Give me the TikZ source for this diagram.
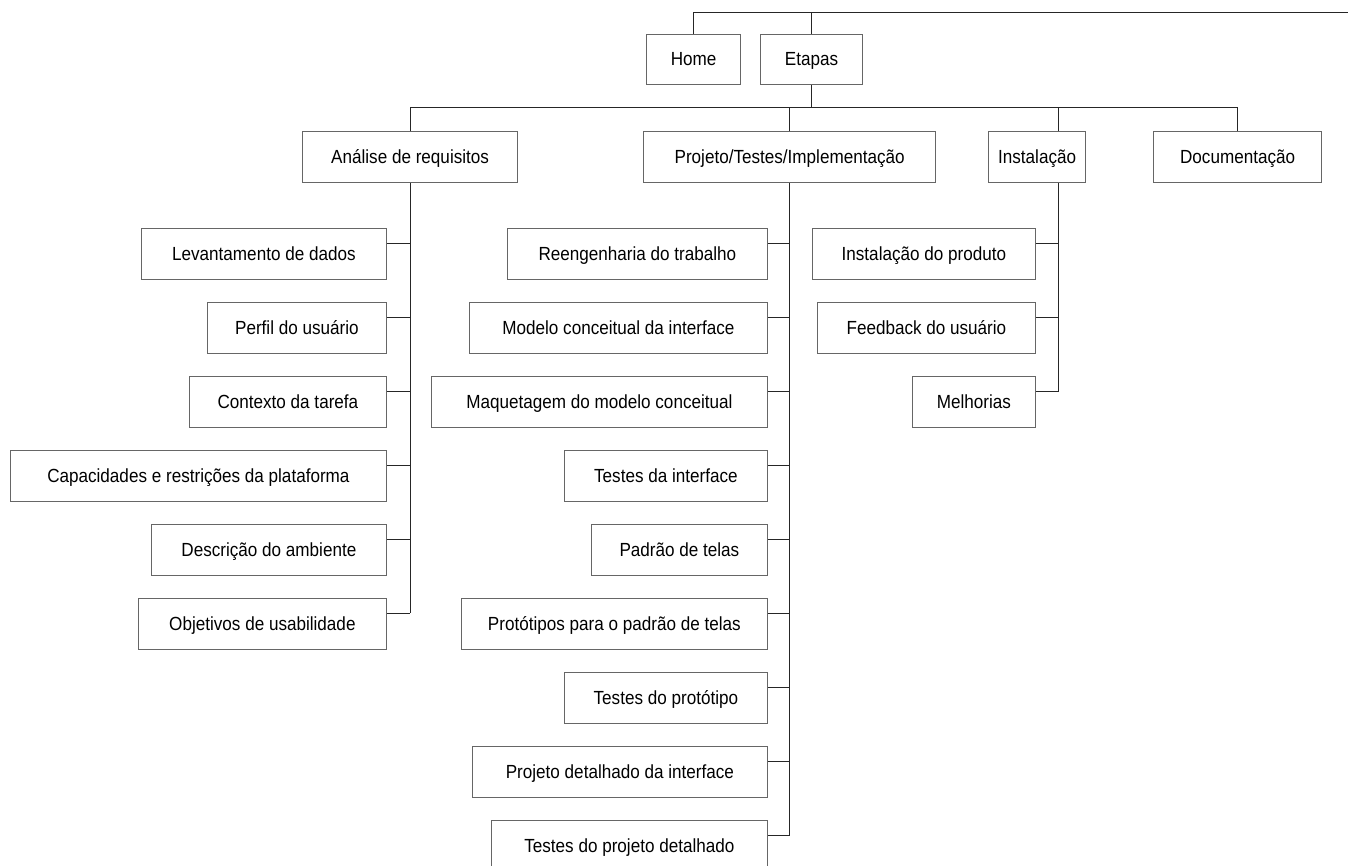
\documentclass[tikz,border=0pt]{standalone}
\usepackage{fontspec}
\setmainfont{Liberation Sans}[FakeStretch=0.9]
\usetikzlibrary{positioning}
\tikzset{
topbox/.style={draw=black!60, line width=1.2pt, minimum height=50pt, inner sep=0pt, text height=15pt, text depth=3pt, anchor=north west, font=\fontsize{19}{22}\selectfont},
subbox/.style={topbox, anchor=north east, minimum height=51pt},
link/.style={draw=black!85, line width=1pt}
}
\begin{document}
\begin{tikzpicture}[x=1pt, y=-1pt]
\useasboundingbox (0,0) rectangle (1348,865);
% first levels
\node[topbox, minimum width=94pt] (home) at (646,34) {Home};
\node[topbox, minimum width=102pt] (etapas) at (760,34) {Etapas};
\node[topbox, minimum width=215pt, minimum height=51pt] (ana) at (302,131) {Análise de requisitos};
\node[topbox, minimum width=292pt, minimum height=51pt] (proj) at (643,131) {Projeto/Testes/Implementação};
\node[topbox, minimum width=97pt, minimum height=51pt] (inst) at (988,131) {Instalação};
\node[topbox, minimum width=168pt, minimum height=51pt] (doc) at (1153,131) {Documentação};
\coordinate (topend) at (1348,12);
\coordinate (lvl) at (0,107);
\coordinate (instx) at ([xshift=21.5pt]inst.north);
\draw[link] (home.north) -- (home.north |- topend) -- (topend);
\draw[link] (etapas.north) -- (etapas.north |- topend);
\draw[link] (etapas.south) -- (etapas.south |- lvl);
\draw[link] (ana.north) -- (ana.north |- lvl) -- (doc.north |- lvl) -- (doc.north);
\draw[link] (proj.north) -- (proj.north |- lvl);
\draw[link] (instx) -- (instx |- lvl);
% Analise de requisitos
\foreach \nm/\lft/\row/\txt in {lev/142/0/Levantamento de dados, per/208/1/Perfil do usuário, ctx/190/2/Contexto da tarefa, cap/11/3/Capacidades e restrições da plataforma, amb/152/4/Descrição do ambiente, obj/139/5/Objetivos de usabilidade}{
\node[subbox, minimum width={(387-\lft)*1pt}] (\nm) at (387,{228+74*\row}) {\txt};
\coordinate (\nm s) at ([yshift=-15pt]\nm.north east);
\draw[link] (\nm s) -- (\nm s -| ana.south);
}
\draw[link] (ana.south) -- (objs -| ana.south);
% Projeto/Testes/Implementacao
\foreach \nm/\lft/\row/\txt in {reng/508/0/Reengenharia do trabalho, mod/470/1/Modelo conceitual da interface, maq/432/2/Maquetagem do modelo conceitual, tint/565/3/Testes da interface, pad/592/4/Padrão de telas, prot/462/5/Protótipos para o padrão de telas, tprot/565/6/Testes do protótipo, pdet/473/7/Projeto detalhado da interface, tdet/492/8/Testes do projeto detalhado}{
\node[subbox, minimum width={(768-\lft)*1pt}] (\nm) at (768,{228+74*\row}) {\txt};
\coordinate (\nm s) at ([yshift=-15pt]\nm.north east);
\draw[link] (\nm s) -- (\nm s -| proj.south);
}
\draw[link] (proj.south) -- (tdets -| proj.south);
% Instalacao
\foreach \nm/\lft/\row/\txt in {iprod/813/0/Instalação do produto, fback/818/1/Feedback do usuário, melh/913/2/Melhorias}{
\node[subbox, minimum width={(1036-\lft)*1pt}] (\nm) at (1036,{228+74*\row}) {\txt};
\coordinate (\nm s) at ([yshift=-15pt]\nm.north east);
\draw[link] (\nm s) -- (\nm s -| instx);
}
\draw[link] (instx |- inst.south) -- (melhs -| instx);
\end{tikzpicture}
\end{document}
